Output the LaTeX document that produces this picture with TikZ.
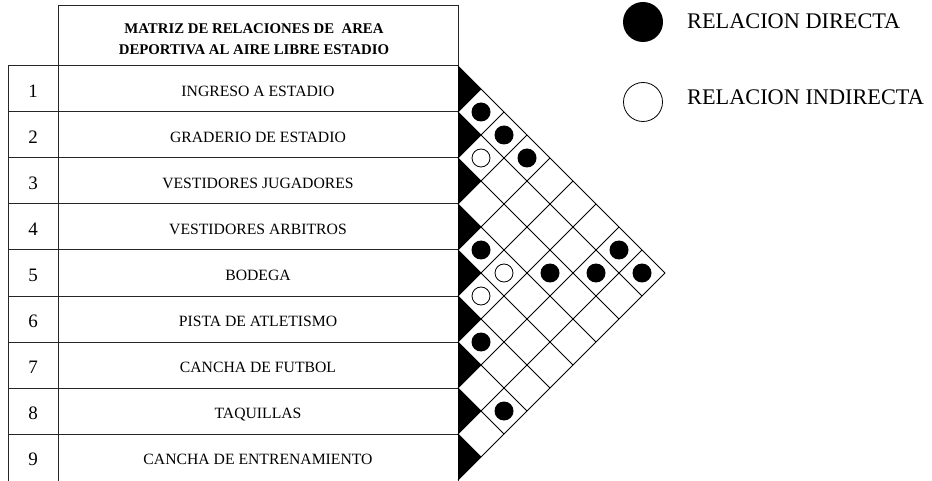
\documentclass[tikz,border=0pt]{standalone}
\usepackage{fontspec}
\setmainfont{Liberation Serif}
\begin{document}
\begin{tikzpicture}[x=1pt,y=-1pt]
\tikzset{
  tline/.style={draw=black!85, line width=1pt},
  gline/.style={draw=black, line width=0.8pt},
  numtxt/.style={anchor=base, inner sep=0pt, font=\fontsize{19}{22}\selectfont},
  rowtxt/.style={anchor=base, inner sep=0pt, font=\fontsize{15.7}{18}\selectfont},
  headtxt/.style={anchor=base, inner sep=0pt, font=\bfseries\fontsize{14.8}{18}\selectfont},
  legtxt/.style={anchor=base west, inner sep=0pt, font=\fontsize{22.3}{26}\selectfont},
  bdot/.style={fill=black},
  wdot/.style={draw=black, fill=white, line width=0.8pt}
}
\useasboundingbox (0,0) rectangle (932,481);
% header box
\draw[tline] (58,5.7) rectangle (458,66);
\node[headtxt] (h1) at (254,33.3) {MATRIZ DE RELACIONES DE~~AREA};
\node[headtxt] (h2) at (254,55) {DEPORTIVA AL AIRE LIBRE ESTADIO};
% table rows
\foreach \k in {0,...,8} \draw[tline] (8,{66+46*\k}) -- (458,{66+46*\k});
\draw[tline] (8,66) -- (8,481);
\draw[tline] (58,66) -- (58,481);
\draw[tline] (458,5.7) -- (458,481);
% black triangles
\foreach \i in {1,...,9}
  \fill[black] (458,{20+46*\i}) -- (481,{43+46*\i}) -- (458,{66+46*\i}) -- cycle;
% grid lines
\foreach \k in {1,...,9}
  \draw[gline] (458,{46*\k+20}) -- ({688-23*\k},{250+23*\k});
\foreach \m in {2,...,10}
  \draw[gline] (458,{20+46*\m}) -- ({435+23*\m},{43+23*\m});
% dots
\foreach \i/\j in {1/2,1/3,1/4,4/5,3/7,2/8,1/9,1/8,6/7,7/9}
  \fill[bdot] ({458+23*(\j-\i)},{43+23*(\i+\j)}) circle (9.5pt);
\foreach \i/\j in {2/3,4/6,5/6}
  \draw[wdot] ({458+23*(\j-\i)},{43+23*(\i+\j)}) circle (9pt);
% row labels
\foreach \n/\t in {1/INGRESO A ESTADIO,2/GRADERIO DE ESTADIO,3/VESTIDORES JUGADORES,4/VESTIDORES ARBITROS,5/BODEGA,6/PISTA DE ATLETISMO,7/CANCHA DE FUTBOL,8/TAQUILLAS,9/CANCHA DE ENTRENAMIENTO}{
  \node[numtxt] (n\n) at (33,{43+46*\n+8.5}) {\n};
  \node[rowtxt] (r\n) at (258,{43+46*\n+7.7}) {\t};
}
% legend
\fill[bdot] (643,22) circle (20pt);
\draw[wdot] (643,102) circle (19.5pt);
\node[legtxt] (l1) at (687,28.3) {RELACION DIRECTA};
\node[legtxt] (l2) at (687,105) {RELACION INDIRECTA};
\end{tikzpicture}
\end{document}
